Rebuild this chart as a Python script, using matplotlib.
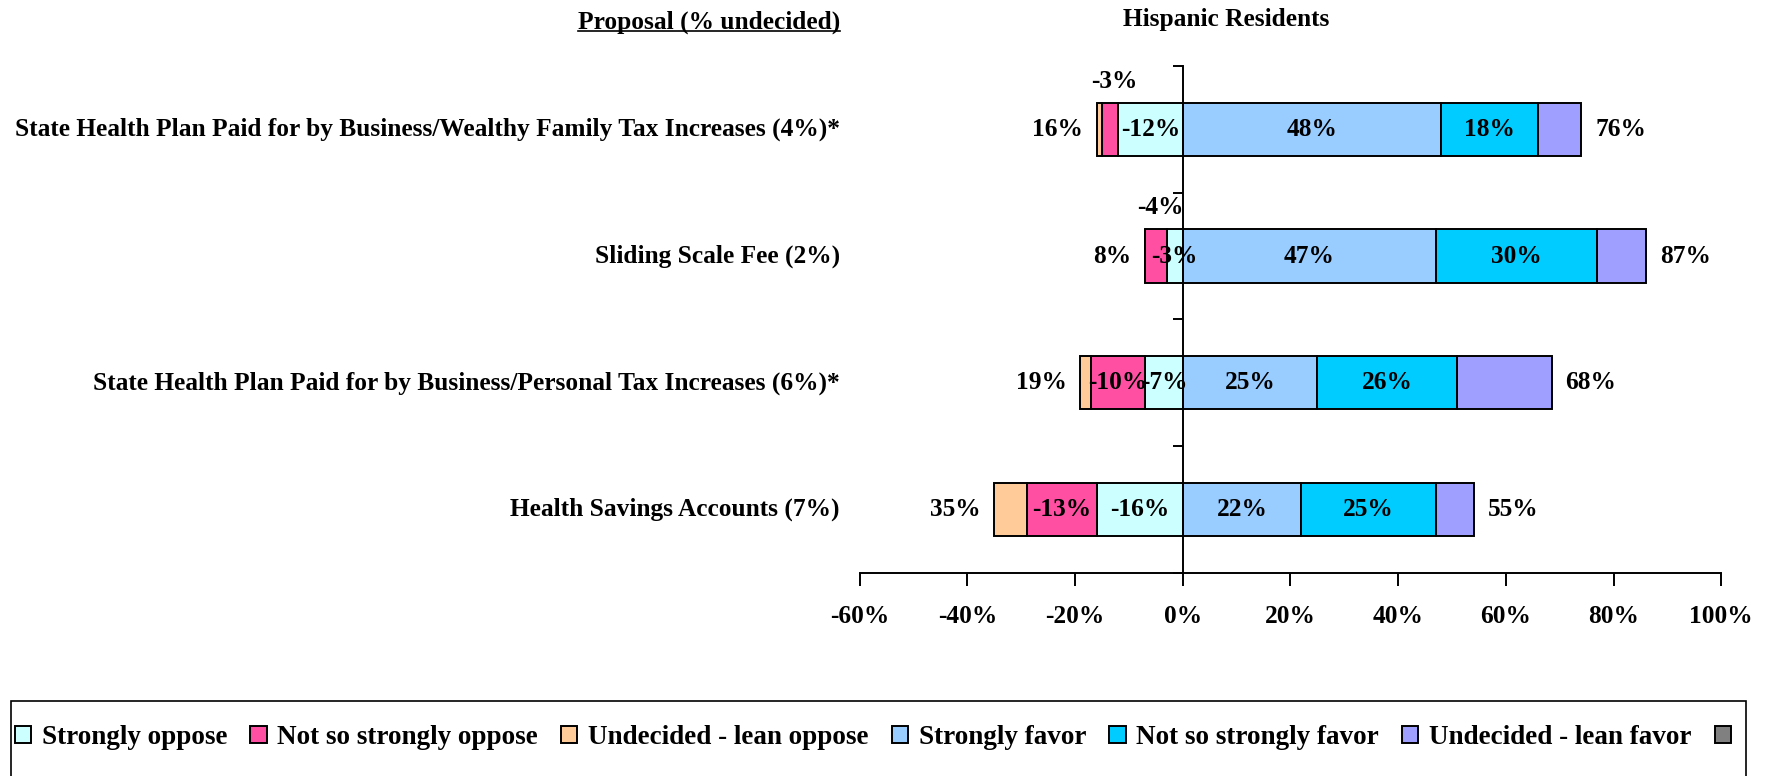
import numpy as np
import matplotlib.pyplot as plt
import matplotlib.transforms as mtransforms
from matplotlib.patches import Rectangle
from matplotlib.lines import Line2D

plt.rcParams['font.family'] = ['Liberation Serif', 'DejaVu Serif']
plt.rcParams['font.weight'] = 'bold'

# proposals, top to bottom
proposals = [
    "State Health Plan Paid for by Business/Wealthy Family Tax Increases (4%)*",
    "Sliding Scale Fee (2%)",
    "State Health Plan Paid for by Business/Personal Tax Increases (6%)*",
    "Health Savings Accounts (7%)",
]
# oppose side (percent, drawn to the left of 0)
strongly_oppose = [12, 3, 7, 16]
not_so_oppose = [3, 4, 10, 13]
lean_oppose = [1, 0, 2, 6]
# favor side
strongly_favor = [48, 47, 25, 22]
not_so_favor = [18, 30, 26, 25]
lean_favor = [8, 9, 17.5, 7]
# totals printed beside the bars
oppose_total = [16, 8, 19, 35]
favor_total = [76, 87, 68, 55]

series_names = ["Strongly oppose", "Not so strongly oppose", "Undecided - lean oppose",
                "Strongly favor", "Not so strongly favor", "Undecided - lean favor"]
colors = ["#CCFFFF", "#FF4FA3", "#FFCC99", "#99CCFF", "#00CCFF", "#9F9FFF"]
FS = 18.3

fig = plt.figure(figsize=(17.69, 7.76), dpi=100)
ax = fig.add_axes([0.486, 0.2616, 0.487, 0.6534])

y = np.arange(len(proposals))
h = 0.42
so = np.array(strongly_oppose, dtype=float)
no = np.array(not_so_oppose, dtype=float)
lo = np.array(lean_oppose, dtype=float)
sf = np.array(strongly_favor, dtype=float)
nf = np.array(not_so_favor, dtype=float)
lf = np.array(lean_favor, dtype=float)

kw = dict(height=h, edgecolor="black", linewidth=1.4, zorder=2)
ax.barh(y, -so, left=0, color=colors[0], **kw)
ax.barh(y, -no, left=-so, color=colors[1], **kw)
ax.barh(y, -lo, left=-so - no, color=colors[2], **kw)
ax.barh(y, sf, left=0, color=colors[3], **kw)
ax.barh(y, nf, left=sf, color=colors[4], **kw)
ax.barh(y, lf, left=sf + nf, color=colors[5], **kw)

for i in range(len(proposals)):
    ax.text(-so[i] / 2, i, f"-{strongly_oppose[i]}%", ha="center", va="center", fontsize=FS, zorder=4)
    if no[i] < 5:
        ax.text(-so[i] - no[i] / 2 + 0.8, i - h / 2 - 0.17, f"-{not_so_oppose[i]}%",
                ha="center", va="center", fontsize=FS, zorder=4)
    else:
        ax.text(-so[i] - no[i] / 2, i, f"-{not_so_oppose[i]}%", ha="center", va="center", fontsize=FS, zorder=4)
    ax.text(sf[i] / 2, i, f"{strongly_favor[i]}%", ha="center", va="center", fontsize=FS, zorder=4)
    ax.text(sf[i] + nf[i] / 2, i, f"{not_so_favor[i]}%", ha="center", va="center", fontsize=FS, zorder=4)
    left_end = -(so[i] + no[i] + lo[i])
    right_end = sf[i] + nf[i] + lf[i]
    ax.annotate(f"{oppose_total[i]}%", (left_end, i), xytext=(-10, 0), textcoords="offset points",
                ha="right", va="center", fontsize=FS)
    ax.annotate(f"{favor_total[i]}%", (right_end, i), xytext=(10, 0), textcoords="offset points",
                ha="left", va="center", fontsize=FS)

# category labels to the left of the plot area
trans = mtransforms.blended_transform_factory(ax.transAxes, ax.transData)
for i, p in enumerate(proposals):
    ax.text(-0.023, i, p, transform=trans, ha="right", va="center", fontsize=FS)

ax.set_xlim(-60, 100)
ax.set_ylim(len(proposals) - 0.5, -0.5)
ticks = np.arange(-60, 101, 20)
ax.set_xticks(ticks)
ax.set_xticklabels([f"{t}%" for t in ticks], fontsize=FS)
ax.tick_params(axis="x", direction="out", length=9, width=1.4, pad=14)
ax.set_yticks(np.arange(len(proposals) + 1) - 0.5)
ax.set_yticklabels([])
ax.tick_params(axis="y", direction="out", length=7, width=1.4)
ax.spines["left"].set_position(("data", 0))
ax.spines["left"].set_zorder(3)
ax.spines["left"].set_linewidth(1.4)
ax.spines["bottom"].set_linewidth(1.4)
ax.spines["top"].set_visible(False)
ax.spines["right"].set_visible(False)

# headers
hdr = fig.text(0.475, 0.971, "Proposal (% undecided)", ha="right", va="center", fontsize=FS)
fig.text(0.693, 0.9755, "Hispanic Residents", ha="center", va="center", fontsize=FS)
fig.canvas.draw()
bb = hdr.get_window_extent().transformed(fig.transFigure.inverted())
fig.add_artist(Line2D([bb.x0, bb.x1], [bb.y0 + 0.004, bb.y0 + 0.004], color="black", lw=1.2,
                      transform=fig.transFigure))

# legend
handles = [Rectangle((0, 0), 1, 1, facecolor=c, edgecolor="black", lw=1.4) for c in colors]
handles.append(Rectangle((0, 0), 1, 1, facecolor="#808080", edgecolor="black", lw=1.4))
labels = series_names + [""]
fig.legend(handles, labels, loc="center", bbox_to_anchor=(0.4965, 0.05), ncol=7, frameon=False,
           fontsize=19.5, handlelength=0.6, handleheight=0.6, handletextpad=0.4, columnspacing=0.85)
fig.add_artist(Rectangle((11 / 1769, -0.05), (1746 - 11) / 1769, 0.05 + 75 / 776,
                         transform=fig.transFigure, fill=False, edgecolor="black", lw=1.2))

fig.savefig("out.png", dpi=100)
